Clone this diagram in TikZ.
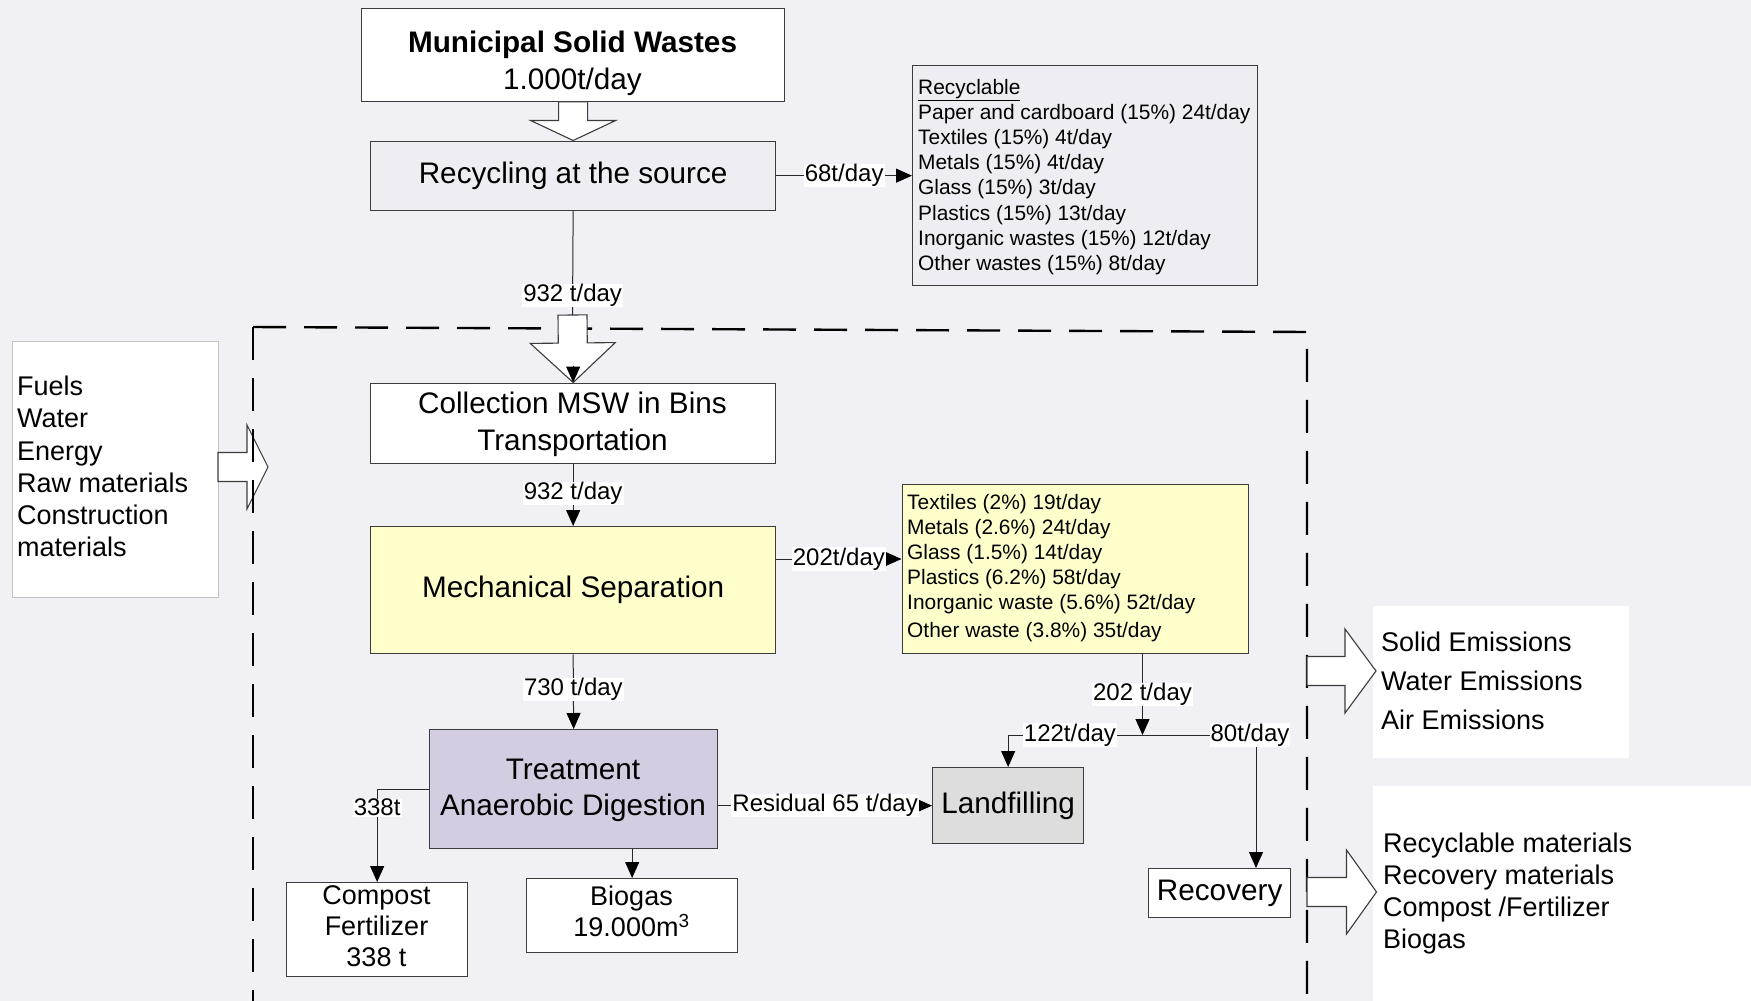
\documentclass[tikz,border=0pt]{standalone}
\usepackage{fontspec}
\setmainfont{Liberation Sans}
\usetikzlibrary{arrows.meta,calc}
\definecolor{bg}{RGB}{240,240,245}
\definecolor{bord}{RGB}{60,60,60}
\definecolor{lncol}{RGB}{40,40,40}
\definecolor{recfill}{RGB}{238,237,243}
\definecolor{yel}{RGB}{255,255,204}
\definecolor{lav}{RGB}{212,204,224}
\definecolor{lfill}{RGB}{221,221,221}
\definecolor{lbord}{RGB}{195,195,195}
\newcommand\fbig{\fontsize{29.7}{36.7}\selectfont}
\newcommand\fmid{\fontsize{27}{31}\selectfont}
\newcommand\fleft{\fontsize{27}{32.2}\selectfont}
\newcommand\femis{\fontsize{27}{39}\selectfont}
\newcommand\fouts{\fontsize{27}{32}\selectfont}
\newcommand\flist{\fontsize{20.9}{25.1}\selectfont}
\newcommand\flbl{\fontsize{24}{28}\selectfont}
% hollow block arrow: from, to, shaft half width, head half width, head length
\newcommand\hollowarrow[5]{%
  \coordinate (hb) at ($(#2)!#5!(#1)$);
  \draw[hollow] ($(#1)!#3!90:(#2)$) -- ($(hb)!#3!90:(#2)$) -- ($(hb)!#4!90:(#2)$)
    -- (#2) -- ($(hb)!#4!-90:(#2)$) -- ($(hb)!#3!-90:(#2)$) -- ($(#1)!#3!-90:(#2)$) -- cycle;}
\begin{document}
\begin{tikzpicture}[x=1pt,y=-1pt,
  box/.style={draw=bord,line width=1.3pt,inner sep=0pt,anchor=north west,font=\fbig},
  wbox/.style={inner sep=0pt,anchor=north west,fill=white},
  txt/.style={inner sep=0pt,align=center},
  ltxt/.style={inner sep=0pt,align=left,anchor=west},
  lbl/.style={fill=white,inner xsep=1pt,inner ysep=0.5pt,font=\flbl},
  ln/.style={draw=lncol,line width=1pt},
  arr/.style={draw=lncol,line width=1pt,-{Triangle[length=16pt,width=14pt,color=black]}},
  hollow/.style={draw=bord,line width=1.1pt,fill=white,line join=miter},
  dashbox/.style={line width=2.4pt,dash pattern=on 33pt off 18pt}]
\useasboundingbox (0,0) rectangle (1751,1001);
\fill[bg] (0,0) rectangle (1751,1001);

% white panels
\node[wbox,draw=lbord,line width=1pt,minimum width=206.5pt,minimum height=256pt] (inp) at (11.5,341) {};
\node[wbox,minimum width=256pt,minimum height=152pt] (emis) at (1373,606) {};
\node[wbox,minimum width=378pt,minimum height=216pt] (outs) at (1373,786) {};

% boxes
\node[box,fill=white,minimum width=423pt,minimum height=93pt] (msw) at (361,7.5) {};
\node[box,fill=recfill,minimum width=405pt,minimum height=69pt] (rec) at (370,140.5) {Recycling at the source};
\node[box,fill=recfill,minimum width=345pt,minimum height=220pt] (recl) at (912,65) {};
\node[box,fill=white,minimum width=405pt,minimum height=80pt] (coll) at (370,382.5) {};
\node[box,fill=yel,minimum width=405pt,minimum height=127pt] (ms) at (370,526) {Mechanical Separation};
\node[box,fill=yel,minimum width=346.5pt,minimum height=169pt] (ylist) at (901.5,484) {};
\node[box,fill=lav,minimum width=288pt,minimum height=119pt] (treat) at (429,729) {};
\node[box,fill=lfill,minimum width=151pt,minimum height=76pt] (lf) at (932,767) {Landfilling};
\node[box,fill=white,minimum width=142pt,minimum height=49pt] (recov) at (1148,868) {Recovery};
\node[box,fill=white,minimum width=181pt,minimum height=94pt] (comp) at (286,882) {};
\node[box,fill=white,minimum width=211pt,minimum height=74pt] (bio) at (526,878) {};

% texts
\node[txt,font=\fbig] (tmsw) at (572.5,63) {\textbf{Municipal Solid Wastes}\\1.000t/day};
\node[ltxt,font=\flist] (trecl) at (918,177) {\underline{Recyclable}\\Paper and cardboard (15\%) 24t/day\\Textiles (15\%) 4t/day\\Metals (15\%) 4t/day\\Glass (15\%) 3t/day\\Plastics (15\%) 13t/day\\Inorganic wastes (15\%) 12t/day\\Other wastes (15\%) 8t/day};
\node[txt,font=\fbig] (tcoll) at (572.5,424.5) {Collection MSW in Bins\\Transportation};
\node[ltxt,font=\flist] (tylist) at (907,568) {Textiles (2\%) 19t/day\\Metals (2.6\%) 24t/day\\Glass (1.5\%) 14t/day\\Plastics (6.2\%) 58t/day\\Inorganic waste (5.6\%) 52t/day\\[3pt]Other waste (3.8\%) 35t/day};
\node[txt,font=\fbig] (ttreat) at (573,790.5) {Treatment\\Anaerobic Digestion};
\node[txt,font=\fmid] (tcomp) at (376.5,926.5) {Compost\\Fertilizer\\338 t};
\node[txt,font=\fmid] (tbio) at (631.5,911) {Biogas\\19.000m\textsuperscript{3}};
\node[ltxt,font=\fleft] (tinp) at (17,466.5) {Fuels\\Water\\Energy\\Raw materials\\Construction\\materials};
\node[ltxt,font=\femis] (temis) at (1381,680.5) {Solid Emissions\\Water Emissions\\Air Emissions};
\node[ltxt,font=\fouts] (touts) at (1383,894) {Recyclable materials\\Recovery materials\\Compost /Fertilizer\\Biogas};

% coordinates
\coordinate (c1) at (572.5,315);
\coordinate (y559) at (0,559);
\coordinate (sp) at (1142.5,735);
\coordinate (spR) at (1256,735);
\coordinate (inT) at (268,467);
\coordinate (inS) at (218,467);
\coordinate (e1s) at (1307,671);
\coordinate (e1t) at (1376,671);
\coordinate (e2s) at (1307,892);
\coordinate (e2t) at (1376.5,892);

% hollow arrow MSW -> recycling
\hollowarrow{msw.south}{rec.north}{14.5pt}{42.5pt}{20pt}
% input arrow
\hollowarrow{inS}{inT}{14.5pt}{42pt}{21pt}

% dashed system boundary
\draw[dashbox] (253,327) -- (253,1010);
\draw[dashbox] (253,327) -- (1307,332) -- (1307,1010);

% output arrows
\hollowarrow{e1s}{e1t}{14.5pt}{42pt}{31pt}
\hollowarrow{e2s}{e2t}{14.5pt}{42pt}{30pt}

% recycling -> collection
\draw[ln] (rec.south) -- node[lbl,pos=0.81]{932 t/day} (c1);
\hollowarrow{c1}{coll.north}{14.5pt}{42.5pt}{39.5pt}
\draw[arr] ($(coll.north)+(0,-17)$) -- (coll.north);

% flows
\draw[arr] (rec.east) -- node[lbl]{68t/day} (recl.west |- rec.east);
\draw[arr] (coll.south) -- node[lbl,pos=0.48]{932 t/day} (ms.north);
\draw[arr] (ms.east |- y559) -- node[lbl]{202t/day} (ylist.west |- y559);
\draw[arr] (ylist.south -| sp) -- node[lbl]{202 t/day} (sp);
\draw[arr] (sp) -| node[lbl,pos=0.27]{122t/day} (lf.north);
\draw[arr] (sp) -| node[lbl,pos=0.5,xshift=-6pt]{80t/day} (recov.north -| spR);
\draw[arr] (ms.south) -- node[lbl,pos=0.47]{730 t/day} (treat.north);
\draw[arr] (treat.east |- lf.west) -- node[lbl]{Residual 65 t/day} (lf.west);
\draw[arr] (treat.west |- 0,789) -| node[lbl,pos=0.6]{338t} (comp.north);
\draw[arr] (bio.north |- treat.south) -- (bio.north);
\end{tikzpicture}
\end{document}
